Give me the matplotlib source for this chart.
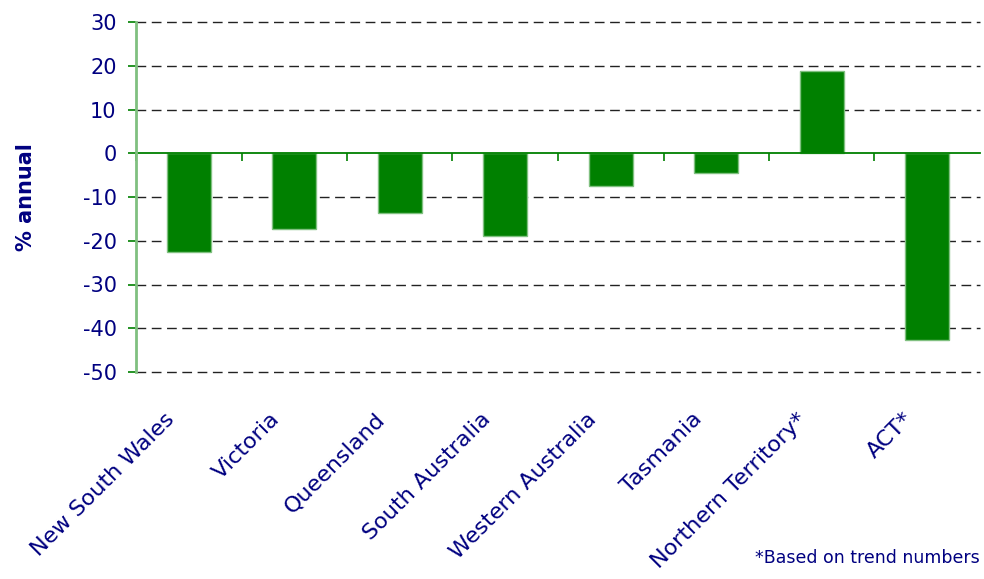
import matplotlib
matplotlib.use("Agg")
import matplotlib.pyplot as plt
import matplotlib.transforms as mtransforms
import numpy as np

categories = ["New South Wales", "Victoria", "Queensland", "South Australia",
              "Western Australia", "Tasmania", "Northern Territory*", "ACT*"]
values = [-22.5, -17.4, -13.7, -18.8, -7.5, -4.6, 18.8, -42.7]
yticks = [30, 20, 10, 0, -10, -20, -30, -40, -50]

NAVY = "#000080"
GREEN = "#008000"
LIGHT = "#80c080"
FONT = "DejaVu Sans"

fig = plt.figure(figsize=(9.84, 5.79), dpi=100)
ax = fig.add_axes([136/984, 1-372/579, (980-136)/984, 350/579])

x = np.arange(len(categories))
ax.bar(x, values, width=0.42, color=GREEN, edgecolor=LIGHT, linewidth=1, zorder=3)

ax.set_xlim(-0.5, len(categories) - 0.5)
ax.set_ylim(min(yticks), max(yticks))

# gridlines
for v in yticks:
    if v != 0:
        ax.axhline(v, color="#222222", linewidth=1.0, linestyle=(0, (7, 4)),
                   zorder=1, clip_on=False)

# spines
for s in ["top", "right"]:
    ax.spines[s].set_visible(False)
ax.spines["left"].set_color(LIGHT)
ax.spines["left"].set_linewidth(2)
ax.spines["left"].set_zorder(5)
ax.spines["bottom"].set_position(("data", 0))
ax.spines["bottom"].set_color(GREEN)
ax.spines["bottom"].set_linewidth(1.3)
ax.spines["bottom"].set_zorder(4)

ax.set_yticks(yticks)
ax.set_yticklabels([str(v) for v in yticks], fontsize=15, color=NAVY, family=FONT)
ax.tick_params(axis="y", colors=GREEN, labelcolor=NAVY, length=6, width=1.2, pad=8)

bounds = np.arange(len(categories) + 1) - 0.5
ax.set_xticks(bounds[:-1])
ax.set_xticklabels([])
ax.tick_params(axis="x", colors=GREEN, length=6, width=1.2, direction="out")

trans = mtransforms.blended_transform_factory(ax.transData, ax.transAxes)
trans = mtransforms.offset_copy(trans, fig=fig, x=-25, y=-37, units="dots")
for i, c in enumerate(categories):
    ax.text(i, 0, c, transform=trans, rotation=45, rotation_mode="anchor",
            ha="right", va="top", fontsize=16, color=NAVY, family=FONT)

ax.set_ylabel("% annual", fontsize=15, fontweight="bold", color=NAVY, family=FONT)
ax.yaxis.set_label_coords(-0.118, 0.5)

fig.text(980/984, 1-558/579, "*Based on trend numbers", ha="right", va="center",
         fontsize=12.5, color=NAVY, family=FONT)

fig.savefig("out.png", dpi=100)
